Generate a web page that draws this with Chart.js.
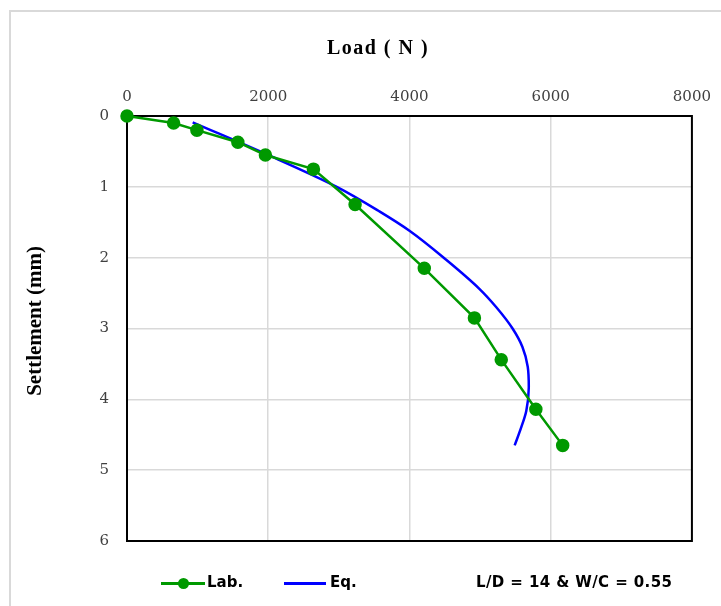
<!DOCTYPE html>
<html>
<head>
<meta charset="utf-8">
<script src="https://cdn.jsdelivr.net/npm/chart.js@4"></script>
<style>
  body { margin: 0; background: #fff; }
  #wrap { position: relative; width: 721px; height: 606px; overflow: hidden; }
  #frame { position: absolute; left: 9px; top: 10px; width: 730px; height: 620px; border: 2px solid #d9d9d9; box-sizing: border-box; }
  canvas { position: absolute; left: 0; top: 0; }
  .ttl { position: absolute; font-family: "Liberation Serif", "Times New Roman", serif; font-weight: bold; color: #000; text-align: center; white-space: nowrap; }
  #xTitle { left: 278px; top: 36px; width: 200px; font-size: 20px; line-height: 22px; letter-spacing: 1.5px; }
  #yTitle { left: 22px; top: 248px; width: 24px; height: 148px; font-size: 21px; line-height: 24px; writing-mode: sideways-lr; }
  .leg { position: absolute; top: 573px; font-family: "DejaVu Sans", sans-serif; font-weight: bold; font-size: 15px; color: #000; line-height: 18px; white-space: nowrap; }
  .mark { position: absolute; top: 582px; height: 3px; }
  .dot { position: absolute; width: 11px; height: 11px; border-radius: 50%; background: #009900; top: 578px; }
</style>
</head>
<body>
<div id="wrap">
  <div id="frame"></div>
  <canvas id="settleChart" width="721" height="606"></canvas>
  <div class="ttl" id="xTitle">Load ( N )</div>
  <div class="ttl" id="yTitle">Settlement (mm)</div>
  <div class="mark" style="left:161px;width:44px;background:#009900"></div>
  <div class="dot" style="left:178px"></div>
  <div class="leg" style="left:207px">Lab.</div>
  <div class="mark" style="left:284px;width:42px;background:#0000ff"></div>
  <div class="leg" style="left:330px">Eq.</div>
  <div class="leg" style="left:476px;letter-spacing:0.4px">L/D = 14 &amp; W/C = 0.55</div>
</div>
<script>
// lab readings
const labLoad = [0, 660, 990, 1570, 1960, 2640, 3230, 4210, 4920, 5300, 5790, 6170];
const labSettle = [0, 0.1, 0.2, 0.37, 0.55, 0.75, 1.25, 2.15, 2.85, 3.44, 4.14, 4.65];

// equation curve
const eqLoad = [930, 2020, 2970, 3580, 4000, 4520, 4990, 5230, 5460, 5600, 5675, 5690, 5655, 5585, 5490];
const eqSettle = [0.09, 0.56, 1.0, 1.35, 1.62, 2.03, 2.44, 2.7, 3.0, 3.26, 3.54, 3.83, 4.16, 4.39, 4.65];

const loadTicks = [0, 2000, 4000, 6000, 8000];
const settleTicks = [0, 1, 2, 3, 4, 5, 6];

const toPoints = (xs, ys) => xs.map((x, i) => ({ x: x, y: ys[i] }));

const plotFrame = {
  id: 'plotFrame',
  beforeDatasetsDraw(chart) {
    const a = chart.chartArea;
    const c = chart.ctx;
    c.save();
    c.strokeStyle = '#000';
    c.lineWidth = 2;
    c.strokeRect(a.left, a.top, a.right - a.left, a.bottom - a.top);
    c.restore();
  }
};

const tickFont = { family: '"DejaVu Serif", "Liberation Serif", serif', size: 15 };

new Chart(document.getElementById('settleChart'), {
  type: 'scatter',
  data: {
    datasets: [
      {
        label: 'Lab.',
        data: toPoints(labLoad, labSettle),
        showLine: true,
        borderColor: '#009900',
        backgroundColor: '#009900',
        borderWidth: 2.5,
        pointRadius: 5.5,
        pointHoverRadius: 5.5,
        tension: 0,
        clip: false
      },
      {
        label: 'Eq.',
        data: toPoints(eqLoad, eqSettle),
        showLine: true,
        indexAxis: 'y',
        cubicInterpolationMode: 'monotone',
        borderColor: '#0000ff',
        backgroundColor: '#0000ff',
        borderWidth: 2.5,
        pointRadius: 0,
        clip: false
      }
    ]
  },
  plugins: [plotFrame],
  options: {
    responsive: false,
    animation: false,
    layout: { padding: { left: 20, top: 20, right: 28, bottom: 65 } },
    plugins: {
      legend: { display: false },
      tooltip: { enabled: false }
    },
    scales: {
      x: {
        type: 'linear',
        position: 'top',
        min: 0,
        max: 8000,
        afterBuildTicks: s => { s.ticks = loadTicks.map(v => ({ value: v })); },
        afterFit: s => { s.height = 96; },
        ticks: { color: '#404040', font: tickFont, padding: 10, callback: v => String(v) },
        grid: { color: '#d9d9d9', lineWidth: 1.5, drawTicks: false },
        border: { display: false }
      },
      y: {
        type: 'linear',
        reverse: true,
        min: 0,
        max: 6,
        afterBuildTicks: s => { s.ticks = settleTicks.map(v => ({ value: v })); },
        afterFit: s => { s.width = 107; },
        ticks: { color: '#404040', font: tickFont, padding: 18, callback: v => String(v) },
        grid: { color: '#d9d9d9', lineWidth: 1.5, drawTicks: false },
        border: { display: false }
      }
    }
  }
});
</script>
</body>
</html>
